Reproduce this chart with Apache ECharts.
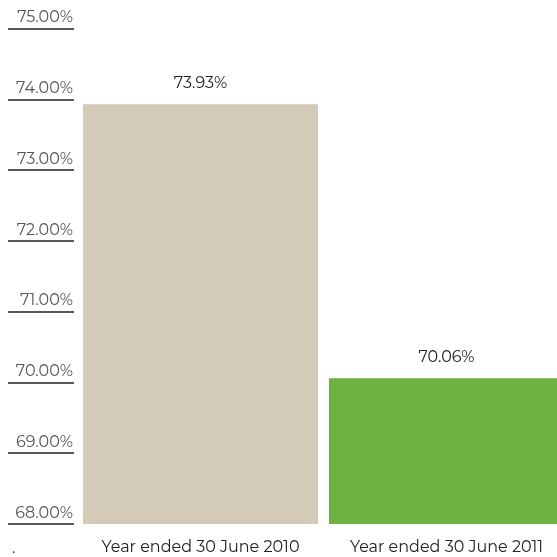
<!DOCTYPE html>
<html>
<head>
<meta charset="utf-8">
<script src="https://cdn.jsdelivr.net/npm/echarts@6/dist/echarts.min.js"></script>
<style>
  html, body { margin: 0; padding: 0; background: #fff; }
  #chart { width: 557px; height: 557px; }
</style>
</head>
<body>
<div id="chart"></div>
<script>
// Categories and values
const categories = ['Year ended 30 June 2010', 'Year ended 30 June 2011'];
const values = [73.93, 70.06];
const barColors = ['#D3CAB7', '#6DB142'];
const yMin = 68;
const yMax = 75;

const chart = echarts.init(document.getElementById('chart'));
const font = 'Montserrat, "Open Sans", Lato, sans-serif';

chart.setOption({
  animation: false,
  title: {
    text: '.',
    left: 7,
    top: 535,
    textStyle: { fontSize: 16, fontWeight: 'normal', color: '#333', fontFamily: font }
  },
  grid: { left: 77.5, width: 492, top: 28.5, bottom: 33, outerBoundsMode: 'none', containLabel: false },
  xAxis: {
    type: 'category',
    data: categories,
    axisLine: { show: false },
    axisTick: { show: false },
    axisLabel: { color: '#222', fontSize: 16, fontFamily: font, margin: 15, interval: 0, hideOverlap: false }
  },
  yAxis: {
    type: 'value',
    min: yMin,
    max: yMax,
    interval: 1,
    offset: 3.5,
    axisLine: { show: false },
    axisTick: { show: true, length: 66, lineStyle: { color: '#222', width: 1.5 } },
    splitLine: { show: false },
    axisLabel: {
      color: '#555',
      fontSize: 16,
      fontFamily: font,
      margin: 1,
      verticalAlign: 'bottom',
      lineHeight: 16,
      padding: [0, 0, 3, 0],
      formatter: v => v.toFixed(2) + '%'
    }
  },
  series: [{
    type: 'bar',
    barWidth: 235,
    data: values.map((v, i) => ({ value: v, itemStyle: { color: barColors[i] } })),
    label: {
      show: true,
      position: 'top',
      distance: 13,
      color: '#222',
      fontSize: 16,
      fontFamily: font,
      formatter: p => p.value.toFixed(2) + '%'
    }
  }]
});
</script>
</body>
</html>
